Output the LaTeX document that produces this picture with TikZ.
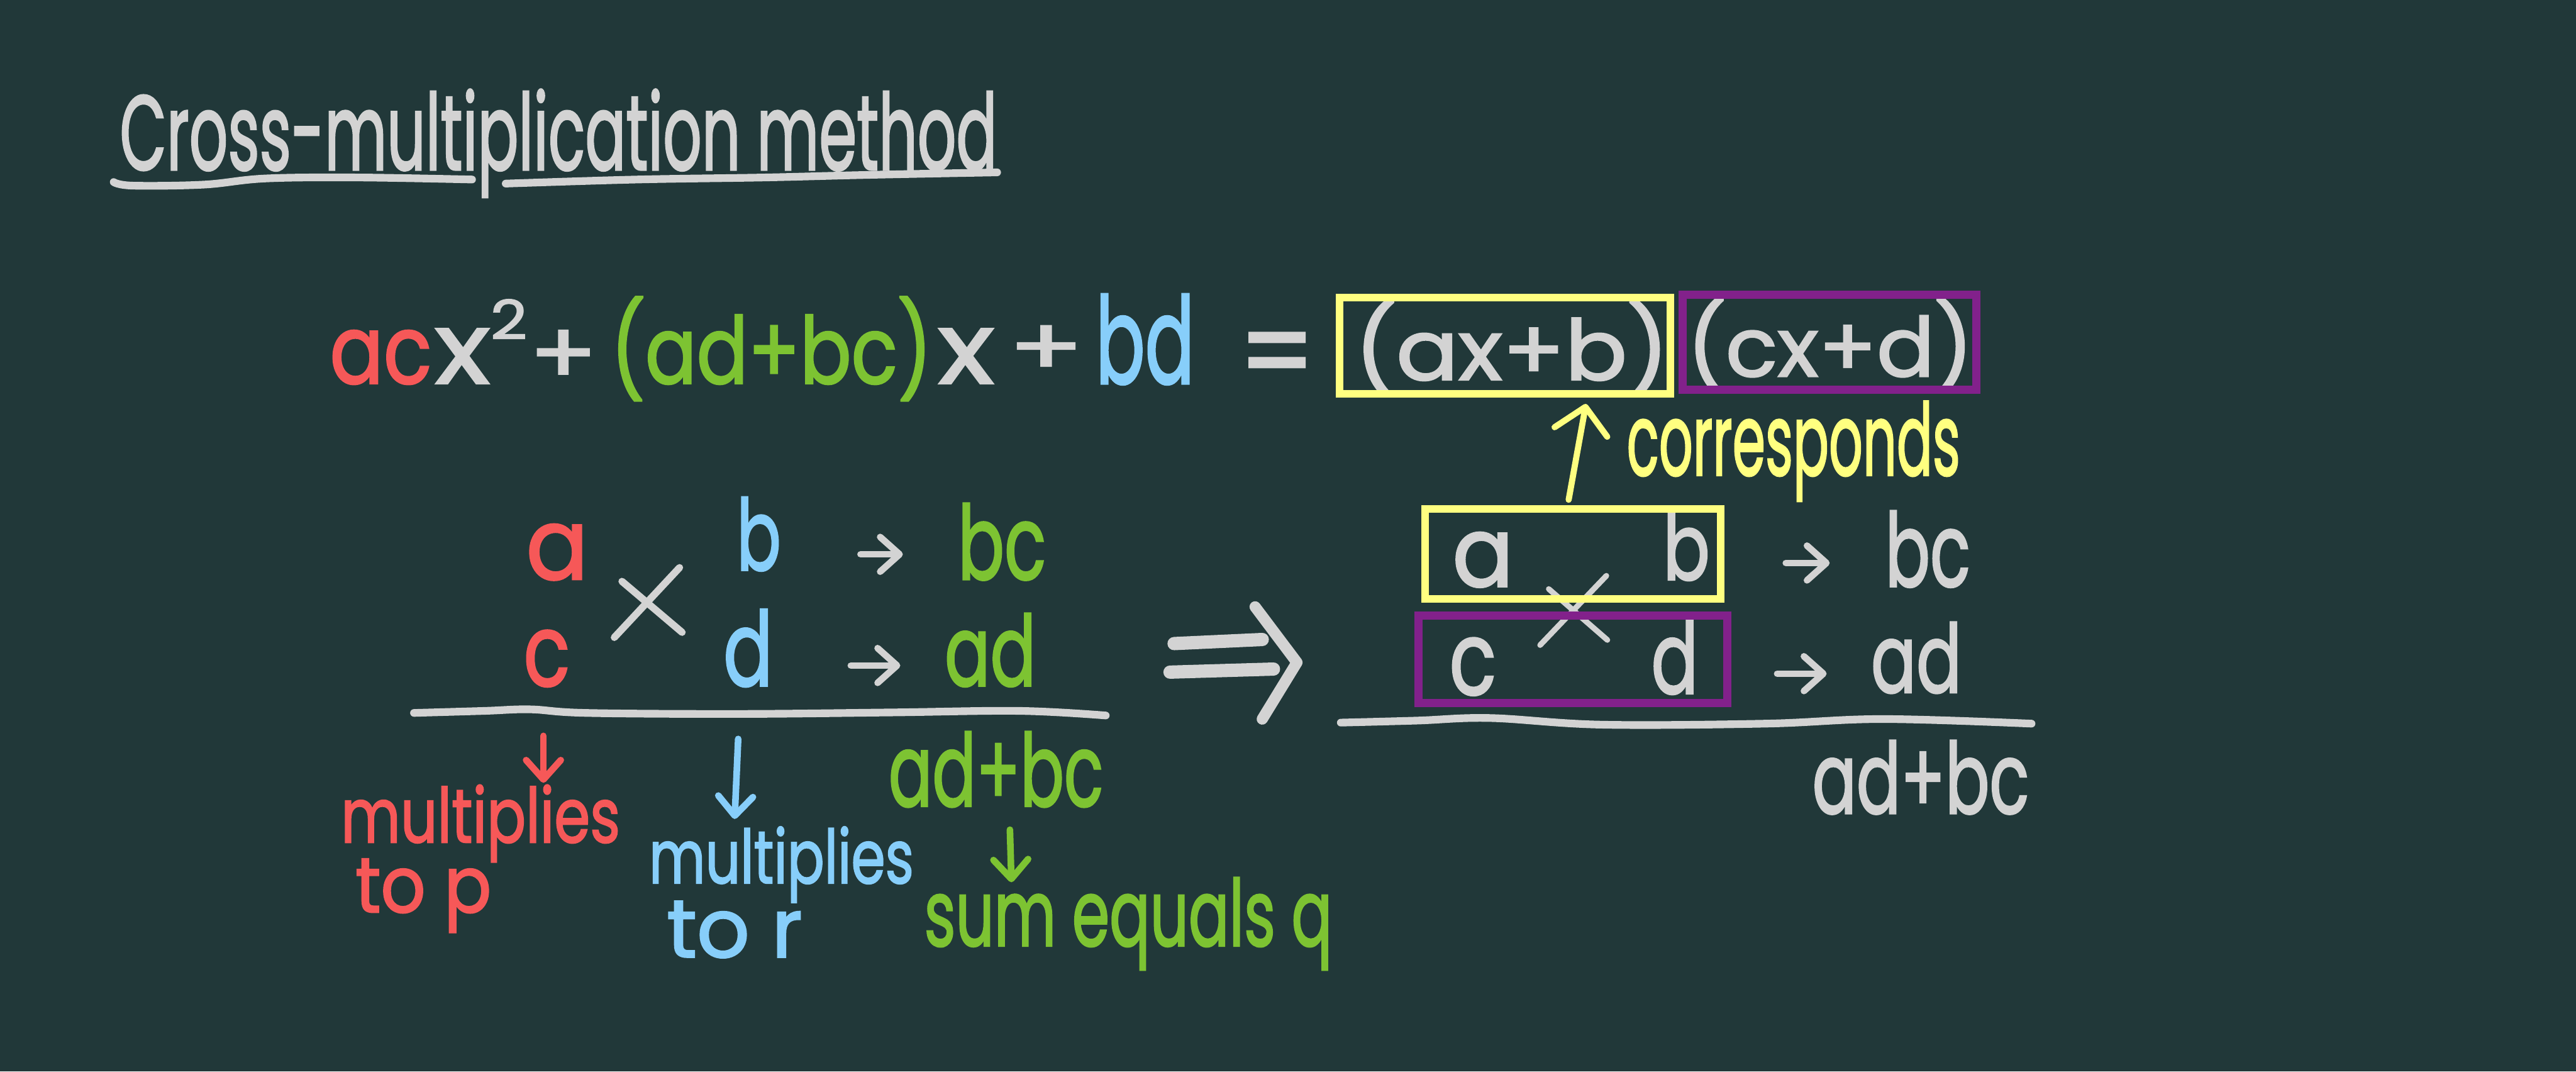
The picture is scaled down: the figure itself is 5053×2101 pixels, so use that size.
\documentclass[tikz,border=0pt]{standalone}
\usepackage{fontspec}
\setmainfont{Poppins}[FakeBold=2]
\usetikzlibrary{arrows.meta}
\definecolor{bg}{RGB}{33,56,57}
\definecolor{chalk}{RGB}{211,211,211}
\definecolor{cred}{RGB}{246,88,88}
\definecolor{cgreen}{RGB}{125,195,50}
\definecolor{cblue}{RGB}{135,206,250}
\definecolor{cyellow}{RGB}{255,255,128}
\definecolor{cpurple}{RGB}{130,33,139}
\newcommand\hw[3]{\resizebox{#1pt}{#2pt}{#3}}
\tikzset{
  txt/.style={inner sep=0pt, outer sep=0pt, anchor=base west},
  stroke/.style={line width=14pt, line cap=round, line join=round},
  arr/.style={line width=13pt, line cap=round,
    -{Straight Barb[length=38pt, width=68pt, line cap=round, line join=round]}},
  rule/.style={chalk, line width=15pt, line cap=round}
}
\begin{document}
\begin{tikzpicture}[x=1pt, y=-1pt]
\fill[bg] (0,0) rectangle (5053,2101);
\useasboundingbox (0,0) rectangle (5053,2101);

% title
\node[txt, text=chalk] (title) at (235,333) {\hw{1720}{158}{Cross-multiplication method}};
\draw[rule] plot[smooth, tension=0.6] coordinates {(223,357) (260,364) (400,362) (520,350) (700,348) (926,352)};
\draw[rule] plot[smooth, tension=0.6] coordinates {(992,360) (1250,352) (1500,348) (1700,343) (1956,338)};

% equation
\node[txt, text=cred] (eac) at (647,752) {\hw{200}{104}{ac}};
\node[txt, text=chalk] (ex1) at (853,752) {\hw{108}{107}{x}};
\node[txt, text=chalk] (esq) at (962,665) {\hw{72}{78}{2}};
\node[txt, text=chalk] (ep1) at (1038,752) {\hw{134}{104}{+}};
\node[txt, text=cgreen] (eq) at (1198,752) {\hw{630}{170}{(ad+bc)}};
\node[txt, text=chalk] (ex2) at (1840,752) {\hw{110}{107}{x}};
\node[txt, text=chalk] (ep2) at (1978,735) {\hw{148}{96}{+}};
\node[txt, text=cblue] (ebd) at (2149,752) {\hw{194}{175}{bd}};
\node[txt, text=chalk] (eeq) at (2430,770) {\hw{150}{117}{=}};
\node[txt, text=chalk] (f1) at (2657,745) {\hw{616}{153}{(ax+b)}};
\node[txt, text=chalk] (f2) at (3309,738) {\hw{561}{150}{(cx+d)}};
\draw[cyellow, line width=15pt] (2627.5,583.5) rectangle (3276.5,772.5);
\draw[cpurple, line width=16pt] (3301,578) rectangle (3877,764);
\node[txt, text=cyellow] (corr) at (3191,932) {\hw{654}{145}{corresponds}};

% left cross diagram
\node[txt, text=cred] (la) at (1032,1136) {\hw{122}{108}{a}};
\node[txt, text=cred] (lc) at (1027,1345) {\hw{91}{109}{c}};
\node[txt, text=cblue] (lb) at (1445,1118) {\hw{87}{143}{b}};
\node[txt, text=cblue] (ld) at (1419,1345) {\hw{97}{150}{d}};
\node[txt, text=cgreen] (lbc) at (1879,1136) {\hw{173}{149}{bc}};
\node[txt, text=cgreen] (lad) at (1853,1345) {\hw{179}{142}{ad}};
\draw[stroke, chalk] (1333,1113) -- (1205,1250);
\draw[stroke, chalk] (1220,1140) -- (1338,1240);
\coordinate (l1s) at (1688,1087); \coordinate (l1e) at (1771,1087);
\coordinate (l2s) at (1669,1305); \coordinate (l2e) at (1766,1305);
\draw[arr, chalk] (l1s) -- (l1e);
\draw[arr, chalk] (l2s) -- (l2e);
\draw[rule] plot[smooth, tension=0.6] coordinates {(812,1398) (950,1394) (1040,1391) (1150,1398) (1450,1400) (1750,1397) (2000,1394) (2169,1403)};
\node[txt, text=cgreen] (lsum) at (1743,1581) {\hw{421}{146}{ad+bc}};

% labels
\coordinate (rs) at (1066,1443); \coordinate (re) at (1066,1535);
\draw[arr, cred] (rs) -- (re);
\node[txt, text=cred] (m1) at (669,1652) {\hw{547}{113}{multiplies}};
\node[txt, text=cred] (t1) at (697,1789) {\hw{267}{105}{to p}};
\coordinate (bs) at (1448,1449); \coordinate (be) at (1441,1606);
\draw[arr, cblue] (bs) -- (be);
\node[txt, text=cblue] (m2) at (1273,1732) {\hw{519}{111}{multiplies}};
\node[txt, text=cblue] (t2) at (1308,1877) {\hw{266}{110}{to r}};
\coordinate (gs) at (1981,1627); \coordinate (ge) at (1984,1730);
\draw[arr, cgreen] (gs) -- (ge);
\node[txt, text=cgreen] (seq) at (1813,1855) {\hw{800}{134}{sum equals q}};

% implies arrow
\draw[line width=26pt, line cap=round, chalk] (2303,1262) -- (2476,1254);
\draw[line width=26pt, line cap=round, chalk] (2295,1318) -- (2498,1312);
\draw[line width=22pt, line cap=round, line join=round, chalk] (2462,1190) -- (2544,1299) -- (2476,1410);

% right diagram
\draw[stroke, chalk, line width=11pt] (3151,1129) -- (3021,1265);
\draw[stroke, chalk, line width=11pt] (3038,1155) -- (3153,1255);
\node[txt, text=chalk] (ra) at (2849,1150) {\hw{120}{106}{a}};
\node[txt, text=chalk] (rb) at (3262,1137) {\hw{92}{134}{b}};
\node[txt, text=chalk] (rc) at (2843,1362) {\hw{92}{111}{c}};
\node[txt, text=chalk] (rd) at (3239,1360) {\hw{92}{144}{d}};
\node[draw=cyellow, line width=15pt, inner sep=0pt, minimum width=580pt, minimum height=177pt] (ybox) at (3085.5,1086) {};
\node[draw=cpurple, line width=16pt, inner sep=0pt, minimum width=606pt, minimum height=171pt] (pbox) at (3085,1292.5) {};
\node[txt, text=chalk] (rbc) at (3698,1150) {\hw{167}{148}{bc}};
\node[txt, text=chalk] (rad) at (3670,1358) {\hw{178}{138}{ad}};
\coordinate (r1s) at (3503,1104); \coordinate (r1e) at (3589,1104);
\coordinate (r2s) at (3486,1321); \coordinate (r2e) at (3583,1321);
\draw[arr, chalk] (r1s) -- (r1e);
\draw[arr, chalk] (r2s) -- (r2e);
\draw[rule] plot[smooth, tension=0.6] coordinates {(2630,1417) (2780,1413) (2923,1408) (3141,1421) (3463,1419) (3693,1410) (3985,1419)};
\node[txt, text=chalk] (rsum) at (3555,1595) {\hw{425}{143}{ad+bc}};

% corresponds arrow
\coordinate (ys) at (3077,980); \coordinate (ye) at (3111,792);
\draw[line width=12pt, line cap=round, cyellow,
  -{Straight Barb[length=50pt, width=105pt, line cap=round, line join=round]}] (ys) -- (ye);
\end{tikzpicture}
\end{document}
